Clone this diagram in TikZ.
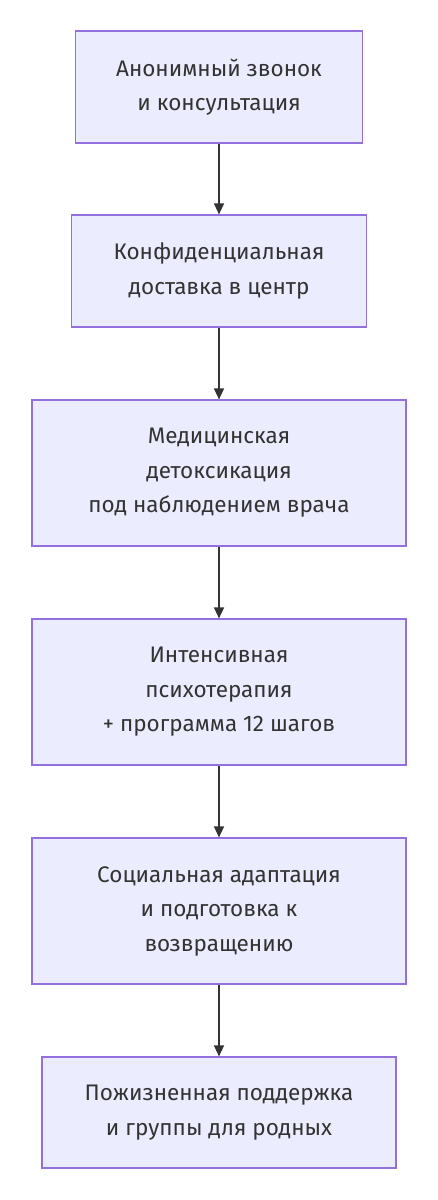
\documentclass[tikz,border=0pt]{standalone}
\usepackage{fontspec}
\setmainfont{Fira Sans}
\usetikzlibrary{arrows.meta}
\definecolor{boxfill}{HTML}{ECECFF}
\definecolor{boxdraw}{HTML}{9370DB}
\definecolor{txt}{HTML}{333333}
\tikzset{
  stepbox/.style={draw=boxdraw, fill=boxfill, line width=1.2pt, text=txt, align=center, inner sep=0pt,
    font=\fontsize{22.5}{34.5}\selectfont},
  link/.style={draw=txt, line width=1.5pt, -{Triangle[length=11pt,width=10pt]}}
}
\begin{document}
\begin{tikzpicture}[x=1pt,y=-1pt]
\useasboundingbox (0,0) rectangle (437,1200);
\node[stepbox, minimum width=287pt, minimum height=112pt] (a) at (219,87) {Анонимный звонок\\и консультация};
\node[stepbox, minimum width=295pt, minimum height=112pt] (b) at (219,271) {Конфиденциальная\\доставка в центр};
\node[stepbox, minimum width=374pt, minimum height=146pt] (c) at (219,473) {Медицинская\\детоксикация\\под наблюдением врача};
\node[stepbox, minimum width=374pt, minimum height=146pt] (d) at (219,692) {Интенсивная\\психотерапия\\+ программа 12 шагов};
\node[stepbox, minimum width=374pt, minimum height=146pt] (e) at (219,911) {Социальная адаптация\\и подготовка к\\возвращению};
\node[stepbox, minimum width=354pt, minimum height=111pt] (f) at (219,1112.5) {Пожизненная поддержка\\и группы для родных};
\draw[link] (a) -- (b);
\draw[link] (b) -- (c);
\draw[link] (c) -- (d);
\draw[link] (d) -- (e);
\draw[link] (e) -- (f);
\end{tikzpicture}
\end{document}
